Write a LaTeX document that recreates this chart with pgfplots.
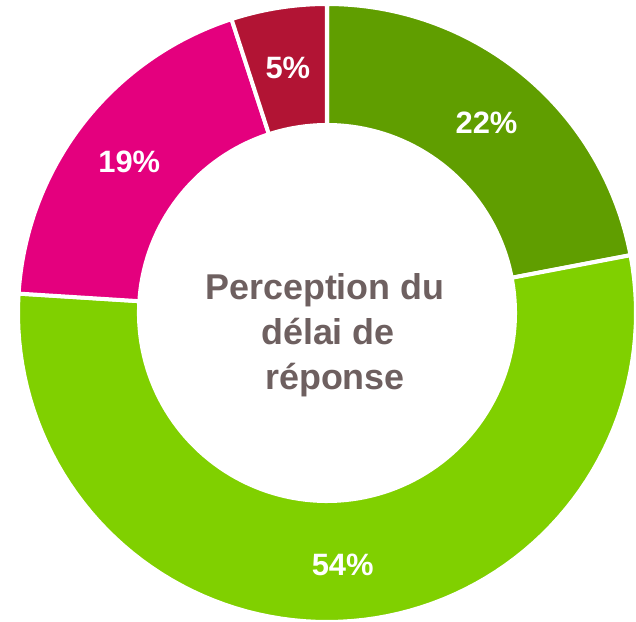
\documentclass[border=0pt]{standalone}
\usepackage{pgfplots}
\pgfplotsset{compat=1.18}
\usepgfplotslibrary{polar}
\usepackage{fontspec}
\setmainfont{Liberation Sans}

\definecolor{darkgreen}{RGB}{96,158,0}
\definecolor{lightgreen}{RGB}{128,208,0}
\definecolor{magenta}{RGB}{228,0,126}
\definecolor{crimson}{RGB}{178,20,52}
\definecolor{centretext}{RGB}{110,96,96}

% shares in percent, clockwise from 12 o'clock
\def\va{22}
\def\vb{54}
\def\vc{19}
\def\vd{5}

\begin{document}
\begin{tikzpicture}
  \useasboundingbox (0,0) rectangle (636bp,622bp);
  \pgfmathsetmacro{\aa}{90}
  \pgfmathsetmacro{\ab}{\aa-3.6*\va}
  \pgfmathsetmacro{\ac}{\ab-3.6*\vb}
  \pgfmathsetmacro{\ad}{\ac-3.6*\vc}
  \pgfmathsetmacro{\ae}{\ad-3.6*\vd}
  \begin{polaraxis}[
      at={(327bp,309bp)}, anchor=center,
      width=618bp, height=618bp, scale only axis,
      ymin=0, ymax=1,
      hide axis, clip=false,
      samples=90,
      every axis plot/.append style={draw=white, line width=4bp},
    ]
    \addplot[fill=darkgreen, domain=\ab:\aa] {1} -- (axis cs:0,0) -- cycle;
    \addplot[fill=lightgreen, domain=\ac:\ab] {1} -- (axis cs:0,0) -- cycle;
    \addplot[fill=magenta, domain=\ad:\ac] {1} -- (axis cs:0,0) -- cycle;
    \addplot[fill=crimson, domain=\ae:\ad] {1} -- (axis cs:0,0) -- cycle;
    % hole of the ring
    \addplot[fill=white, draw=none, domain=0:360, samples=180] {0.615} -- cycle;

    \begin{scope}[every node/.style={text=white, yshift=-2.5bp,
        font=\bfseries\fontsize{31}{31}\selectfont}]
      \node at (axis cs:{(\aa+\ab)/2},0.81) {\va\%};
      \node at (axis cs:{(\ab+\ac)/2},0.81) {\vb\%};
      \node at (axis cs:{(\ac+\ad)/2},0.81) {\vc\%};
      \node at (axis cs:{(\ad+\ae)/2},0.81) {\vd\%};
    \end{scope}
    \node[align=center, text=centretext, yshift=-22bp, xshift=-2bp,
          font=\bfseries\fontsize{36}{45}\selectfont]
      at (axis cs:0,0) {Perception du\\\hspace*{6bp}délai de\\\hspace*{20bp}réponse};
  \end{polaraxis}
\end{tikzpicture}
\end{document}
